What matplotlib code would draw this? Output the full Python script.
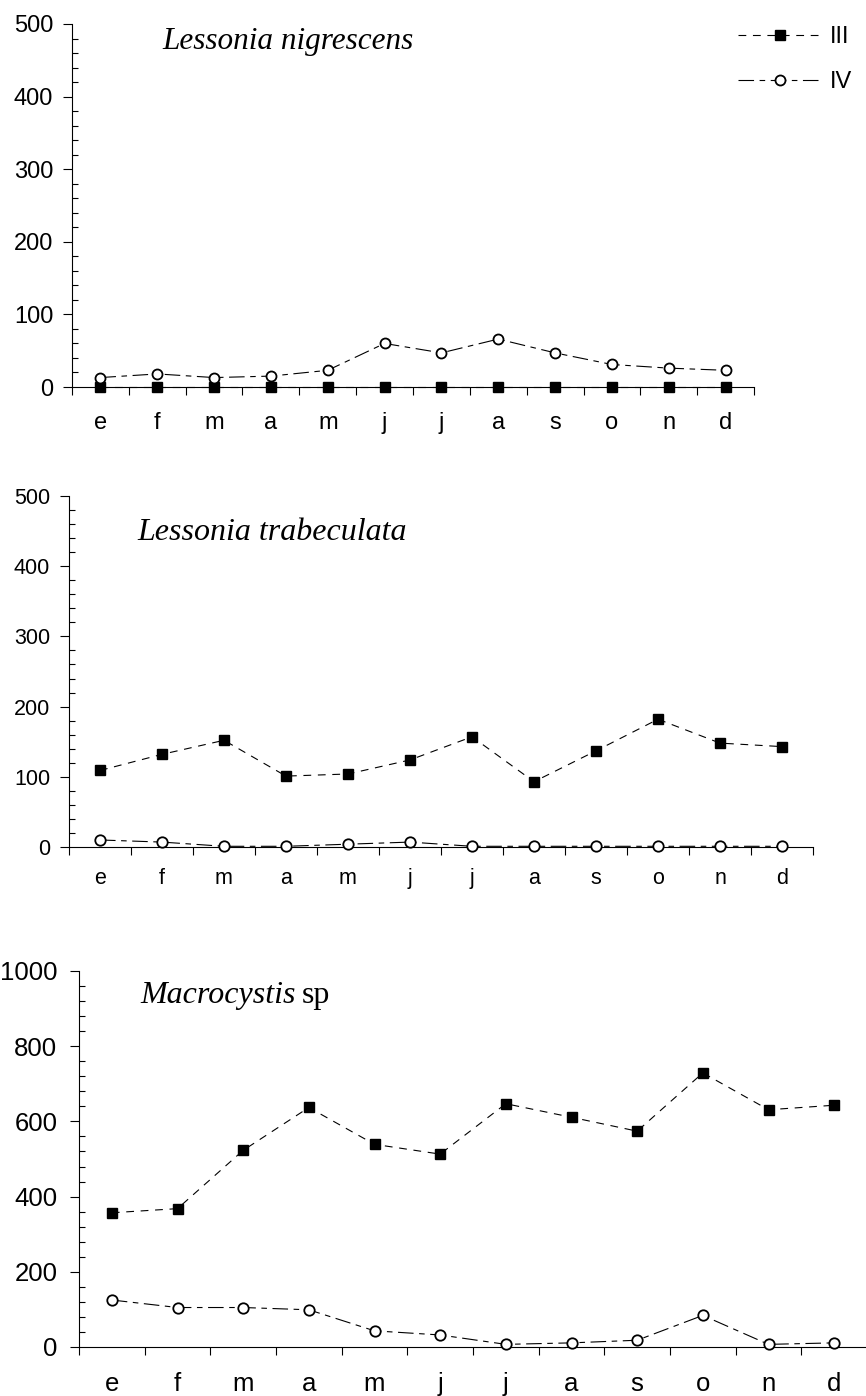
import matplotlib
matplotlib.use("Agg")
import matplotlib.pyplot as plt
import numpy as np
from matplotlib.ticker import MultipleLocator, FixedLocator, NullFormatter, FixedFormatter

# month initials (spanish)
months = ["e", "f", "m", "a", "m", "j", "j", "a", "s", "o", "n", "d"]

# Lessonia nigrescens
nigrescens_III = [0, 0, 0, 0, 0, 0, 0, 0, 0, 0, 0, 0]
nigrescens_IV = [13, 18, 13, 15, 23, 60, 47, 66, 47, 31, 26, 23]

# Lessonia trabeculata
trabeculata_III = [109, 132, 152, 101, 104, 124, 157, 93, 137, 182, 148, 143]
trabeculata_IV = [10, 7, 1, 1, 4, 7, 1, 1, 1, 1, 1, 1]

# Macrocystis sp
macro_III = [357, 368, 523, 637, 539, 513, 647, 611, 574, 729, 631, 643]
macro_IV = [125, 105, 105, 99, 43, 32, 7, 11, 18, 84, 7, 11]

plt.rcParams["font.family"] = ["Liberation Sans", "DejaVu Sans"]

W, H = 866, 1396
fig = plt.figure(figsize=(W / 100, H / 100), dpi=100)


def px_axes(x0, x1, y_top, y_bot):
    """Create axes from pixel coordinates (top-left origin)."""
    return fig.add_axes([x0 / W, 1 - y_bot / H, (x1 - x0) / W, (y_bot - y_top) / H])


def draw_panel(ax, s3, s4, ymax, ystep, yminor, fs, msq, mci, xpad, ypad):
    x = np.arange(len(months))
    ax.plot(x, s3, color="black", lw=0.8, ls=(0, (7, 6)), marker="s", ms=msq,
            mfc="black", mec="black", clip_on=False, zorder=3, label="III")
    ax.plot(x, s4, color="black", lw=0.8, ls=(0, (14, 5, 5, 5)), marker="o", ms=mci,
            mfc="white", mec="black", mew=1.3, clip_on=False, zorder=4, label="IV")
    ax.set_xlim(-0.5, len(months) - 0.5)
    ax.set_ylim(0, ymax)
    for s in ["top", "right"]:
        ax.spines[s].set_visible(False)
    for s in ["left", "bottom"]:
        ax.spines[s].set_linewidth(0.8)

    # ticks between months, labels centred on months
    ax.xaxis.set_major_locator(FixedLocator(np.arange(-0.5, len(months), 1)))
    ax.xaxis.set_major_formatter(NullFormatter())
    ax.xaxis.set_minor_locator(FixedLocator(x))
    ax.xaxis.set_minor_formatter(FixedFormatter(months))
    ax.tick_params(axis="x", which="major", direction="out", length=6, width=0.8)
    ax.tick_params(axis="x", which="minor", length=0, pad=xpad, labelsize=fs)

    ax.yaxis.set_major_locator(MultipleLocator(ystep))
    ax.yaxis.set_minor_locator(MultipleLocator(yminor))
    ax.tick_params(axis="y", which="major", direction="out", length=6.5, width=0.8,
                   labelsize=fs, pad=ypad)
    ax.tick_params(axis="y", which="minor", direction="in", length=4.5, width=0.8)


ax1 = px_axes(72, 754, 24, 387)
draw_panel(ax1, nigrescens_III, nigrescens_IV, 500, 100, 20, 17, 6.7, 7.2, 18, 7)

ax2 = px_axes(69, 813, 496, 847)
draw_panel(ax2, trabeculata_III, trabeculata_IV, 500, 100, 20, 15.5, 7.5, 7.5, 15, 7)

ax3 = px_axes(79, 867, 971, 1347)
draw_panel(ax3, macro_III, macro_IV, 1000, 200, 40, 18.5, 7.7, 7.5, 18, 9)

title_font = dict(family=["Liberation Serif", "DejaVu Serif"], style="italic")
fig.text(162 / W, 1 - 42 / H, "Lessonia nigrescens", fontsize=22.5, va="center", **title_font)
fig.text(137 / W, 1 - 533 / H, "Lessonia trabeculata", fontsize=23, va="center", **title_font)
t3 = fig.text(140 / W, 1 - 995 / H, "Macrocystis", fontsize=23, va="center", **title_font)

fig.canvas.draw()
bb = t3.get_window_extent()
fig.text((bb.x1 + 6) / W, 1 - 995 / H, "sp", fontsize=23, va="center",
         family=["Liberation Serif", "DejaVu Serif"])

ax1.legend(loc="upper right", bbox_to_anchor=(864 / W, 1 - 14 / H),
           bbox_transform=fig.transFigure, frameon=False, fontsize=17,
           handlelength=3.6, handletextpad=0.3, labelspacing=1.0, borderpad=0,
           numpoints=1)

fig.savefig("out.png", dpi=100)
